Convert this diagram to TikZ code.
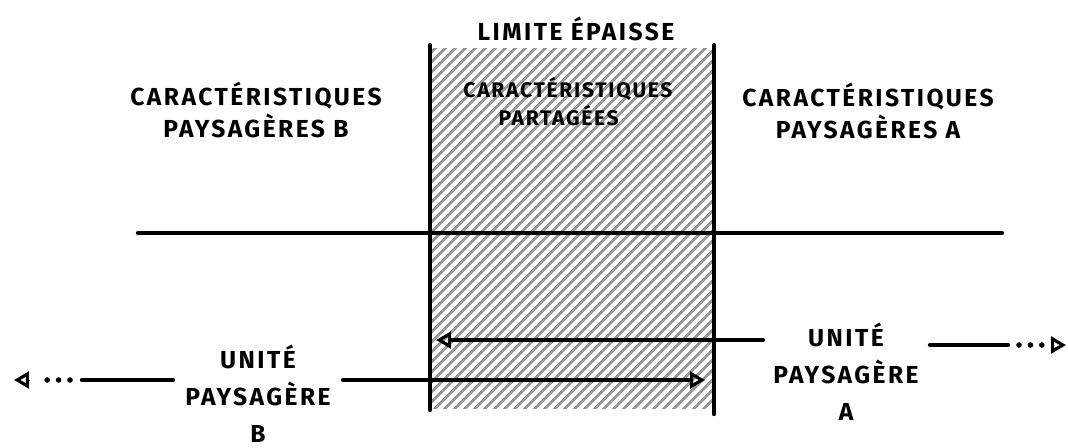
\documentclass[tikz,border=0pt]{standalone}
\usepackage{fontspec}
\setmainfont{Fira Sans}
\usetikzlibrary{arrows.meta,patterns.meta}
\begin{document}
\begin{tikzpicture}[x=0.02cm,y=-0.02cm,
  lbl/.style={font=\fontsize{14}{18}\bfseries\selectfont\addfontfeature{LetterSpace=10}, align=center, inner sep=0pt},
  unit/.style={font=\fontsize{14}{21}\bfseries\selectfont\addfontfeature{LetterSpace=10}, align=center, inner sep=0pt},
  small/.style={font=\fontsize{12}{16}\bfseries\selectfont\addfontfeature{LetterSpace=8}, align=center, inner sep=0pt},
  thick line/.style={line width=2.5pt, line cap=round},
  dotline/.style={line width=3.2pt, line cap=round, dash pattern=on 0pt off 6.5pt},
  tipL/.style={-{Triangle[open,length=8.5pt,width=9.5pt,line width=1.8pt]}}]
\useasboundingbox (0,0) rectangle (1068,447);
% hatched zone
\path[pattern={Lines[angle=45,distance=4pt,line width=1.6pt]},pattern color=black!40] (432,48) rectangle (712,408);
% boundaries
\coordinate (bl1) at (430,45); \coordinate (bl2) at (430,410);
\coordinate (br1) at (714,45); \coordinate (br2) at (714,414);
\draw[thick line] (bl1) -- (bl2);
\draw[thick line] (br1) -- (br2);
\coordinate (h1) at (138,233); \coordinate (h2) at (1002,233);
\draw[thick line] (h1) -- (h2);
% labels
\node[lbl] (lim) at (576,29) {LIMITE ÉPAISSE};
\node[lbl] (cb) at (256,110) {CARACTÉRISTIQUES\\PAYSAGÈRES B};
\node[small, align=left] (cp) at (568,102) {CARACTÉRISTIQUES\\\hspace*{20pt}PARTAGÉES};
\node[lbl] (ca) at (868,111) {CARACTÉRISTIQUES\\PAYSAGÈRES A};
\node[unit] (ub) at (258,394) {UNITÉ\\PAYSAGÈRE\\B};
\node[unit] (ua) at (846,372) {UNITÉ\\PAYSAGÈRE\\A};
% arrows from A
\coordinate (a0) at (763,340); \coordinate (a1) at (436,340);
\draw[thick line] (a0) -- (452,340);
\draw[tipL] (452,340) -- (a1);
\coordinate (ar0) at (930,345); \coordinate (ar1) at (1008,345);
\draw[thick line] (ar0) -- (ar1);
\draw[dotline] (1019,345) -- (1042,345);
\draw[tipL] (1050.5,345) -- (1066,345);
% arrows from B
\coordinate (b0) at (343,380); \coordinate (b1) at (705,380);
\draw[thick line] (b0) -- (689,380);
\draw[tipL] (689,380) -- (b1);
\coordinate (bl0) at (173,380); \coordinate (bl3) at (82,380);
\draw[thick line] (bl0) -- (bl3);
\draw[dotline] (70,380) -- (45,380);
\draw[tipL] (29.5,380) -- (14,380);
\end{tikzpicture}
\end{document}
